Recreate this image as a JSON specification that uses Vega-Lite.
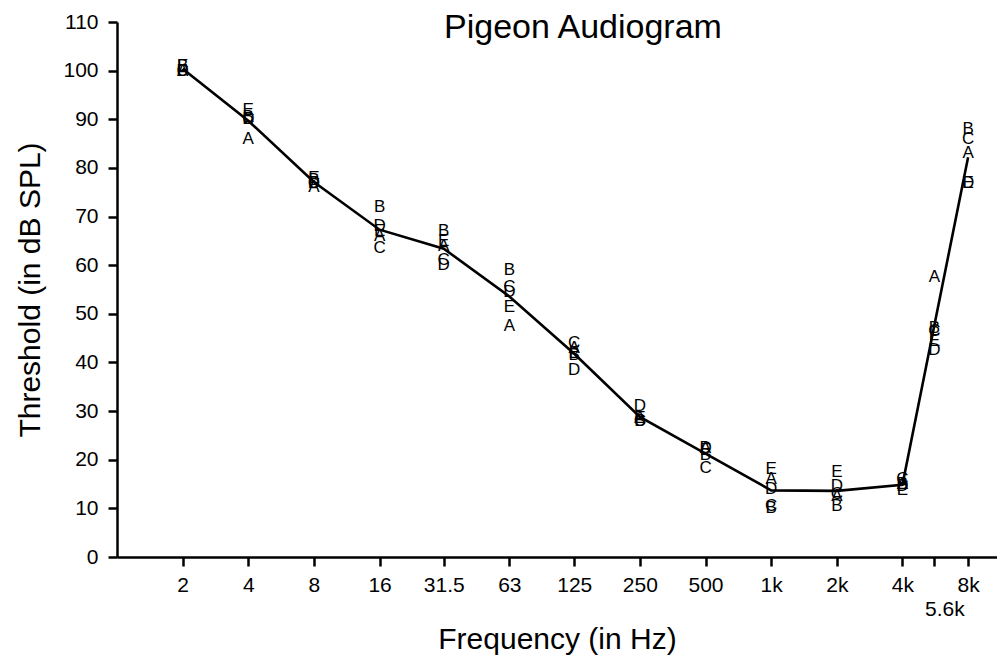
{
  "$schema": "https://vega.github.io/schema/vega-lite/v6.json",
  "autosize": {"type": "none"},
  "padding": {"left": 117, "top": 22, "right": 0, "bottom": 102},
  "width": 880,
  "height": 535,
  "background": "white",
  "title": {
    "text": "Pigeon Audiogram",
    "fontSize": 34,
    "fontWeight": "normal",
    "font": "Liberation Sans",
    "color": "black",
    "anchor": "middle",
    "frame": "group",
    "dx": 26,
    "baseline": "alphabetic",
    "offset": -61
  },
  "config": {
    "view": {"stroke": null},
    "font": "Liberation Sans",
    "axis": {
      "grid": false,
      "domainColor": "black",
      "domainWidth": 2.5,
      "tickColor": "black",
      "tickWidth": 2.5,
      "tickSize": 9,
      "labelFont": "Liberation Sans",
      "labelFontSize": 21,
      "labelColor": "black",
      "titleFont": "Liberation Sans",
      "titleFontSize": 30,
      "titleFontWeight": "normal",
      "titleColor": "black"
    }
  },
  "data": {
    "values": [
      {"freq": 2, "bird": "A", "db": 100}, {"freq": 2, "bird": "B", "db": 101}, {"freq": 2, "bird": "C", "db": 100}, {"freq": 2, "bird": "D", "db": 100}, {"freq": 2, "bird": "E", "db": 101},
      {"freq": 4, "bird": "A", "db": 86}, {"freq": 4, "bird": "B", "db": 90.5}, {"freq": 4, "bird": "C", "db": 90}, {"freq": 4, "bird": "D", "db": 90}, {"freq": 4, "bird": "E", "db": 92},
      {"freq": 8, "bird": "A", "db": 76}, {"freq": 8, "bird": "B", "db": 77.5}, {"freq": 8, "bird": "C", "db": 77}, {"freq": 8, "bird": "D", "db": 77}, {"freq": 8, "bird": "E", "db": 78},
      {"freq": 16, "bird": "A", "db": 66}, {"freq": 16, "bird": "B", "db": 72}, {"freq": 16, "bird": "C", "db": 63.5}, {"freq": 16, "bird": "D", "db": 68}, {"freq": 16, "bird": "E", "db": 67},
      {"freq": 31.5, "bird": "A", "db": 64}, {"freq": 31.5, "bird": "B", "db": 67}, {"freq": 31.5, "bird": "C", "db": 61}, {"freq": 31.5, "bird": "D", "db": 60}, {"freq": 31.5, "bird": "E", "db": 65},
      {"freq": 63, "bird": "A", "db": 47.5}, {"freq": 63, "bird": "B", "db": 59}, {"freq": 63, "bird": "C", "db": 55.5}, {"freq": 63, "bird": "D", "db": 54.5}, {"freq": 63, "bird": "E", "db": 51.4},
      {"freq": 125, "bird": "A", "db": 43}, {"freq": 125, "bird": "B", "db": 41.5}, {"freq": 125, "bird": "C", "db": 44}, {"freq": 125, "bird": "D", "db": 38.5}, {"freq": 125, "bird": "E", "db": 42},
      {"freq": 250, "bird": "A", "db": 28.5}, {"freq": 250, "bird": "B", "db": 28}, {"freq": 250, "bird": "C", "db": 28}, {"freq": 250, "bird": "D", "db": 31}, {"freq": 250, "bird": "E", "db": 28.5},
      {"freq": 500, "bird": "A", "db": 22.5}, {"freq": 500, "bird": "B", "db": 21}, {"freq": 500, "bird": "C", "db": 18.3}, {"freq": 500, "bird": "D", "db": 22.5}, {"freq": 500, "bird": "E", "db": 22},
      {"freq": 1000, "bird": "A", "db": 16}, {"freq": 1000, "bird": "B", "db": 10}, {"freq": 1000, "bird": "C", "db": 10.5}, {"freq": 1000, "bird": "D", "db": 14}, {"freq": 1000, "bird": "E", "db": 18},
      {"freq": 2000, "bird": "A", "db": 12.5}, {"freq": 2000, "bird": "B", "db": 10.5}, {"freq": 2000, "bird": "C", "db": 13}, {"freq": 2000, "bird": "D", "db": 14.5}, {"freq": 2000, "bird": "E", "db": 17.5},
      {"freq": 4000, "bird": "A", "db": 15}, {"freq": 4000, "bird": "B", "db": 15}, {"freq": 4000, "bird": "C", "db": 16}, {"freq": 4000, "bird": "D", "db": 14.5}, {"freq": 4000, "bird": "E", "db": 13.8},
      {"freq": 5600, "bird": "A", "db": 57.5}, {"freq": 5600, "bird": "B", "db": 47}, {"freq": 5600, "bird": "C", "db": 46.5}, {"freq": 5600, "bird": "D", "db": 42.5}, {"freq": 5600, "bird": "E", "db": 44.5},
      {"freq": 8000, "bird": "A", "db": 83}, {"freq": 8000, "bird": "B", "db": 88}, {"freq": 8000, "bird": "C", "db": 86}, {"freq": 8000, "bird": "D", "db": 77}, {"freq": 8000, "bird": "E", "db": 77}
    ]
  },
  "layer": [
    {
      "mark": {"type": "line", "color": "black", "strokeWidth": 2.6},
      "encoding": {
        "x": {
          "field": "freq",
          "type": "quantitative",
          "title": "Frequency (in Hz)",
          "scale": {"type": "log", "base": 2, "domain": [1, 10855], "nice": false},
          "axis": {
            "values": [2, 4, 8, 16, 31.5, 63, 125, 250, 500, 1000, 2000, 4000, 5600, 8000],
            "labelExpr": "datum.value == 5600 ? ['', '5.6k'] : (datum.value >= 1000 ? toString(datum.value / 1000) + 'k' : toString(datum.value))",
            "labelLineHeight": 24,
            "labelPadding": 8,
            "labelOffset": {"condition": {"test": "datum.value == 5600", "value": 10}, "value": 0},
            "labelOverlap": false,
            "titlePadding": 5
          }
        },
        "y": {
          "aggregate": "mean",
          "field": "db",
          "type": "quantitative",
          "title": "Threshold (in dB SPL)",
          "scale": {"domain": [0, 110], "nice": false},
          "axis": {
            "values": [0, 10, 20, 30, 40, 50, 60, 70, 80, 90, 100, 110],
            "labelPadding": 10,
            "titlePadding": 17
          }
        }
      }
    },
    {
      "mark": {"type": "text", "fontSize": 17, "color": "black", "baseline": "middle", "align": "center", "font": "Liberation Sans"},
      "encoding": {
        "x": {"field": "freq", "type": "quantitative", "title": "Frequency (in Hz)"},
        "y": {"field": "db", "type": "quantitative", "title": "Threshold (in dB SPL)"},
        "text": {"field": "bird"}
      }
    }
  ]
}
